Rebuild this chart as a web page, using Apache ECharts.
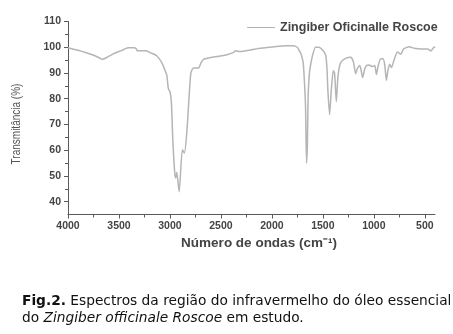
<!DOCTYPE html>
<html><head><meta charset="utf-8">
<script src="https://cdn.jsdelivr.net/npm/echarts@6/dist/echarts.min.js"></script>
<style>html,body{margin:0;padding:0;background:#fff}#c{width:453px;height:334px}</style>
</head><body><div id="c"></div>
<script>
const wavenumbers = [4000,3900,3800,3754,3700,3661,3620,3556,3475,3409,3353,3330,3320,3235,3195,3130,3081,3048,3030,3016,2998,2985,2972,2953,2943,2933,2910,2878,2858,2835,2812,2795,2770,2720,2697,2671,2600,2539,2450,2376,2359,2310,2200,2113,2000,1851,1792,1750,1736,1715,1693,1680,1670,1660,1652,1645,1637,1628,1604,1572,1539,1506,1473,1460,1451,1434,1417,1398,1385,1368,1352,1326,1277,1227,1201,1178,1162,1139,1129,1109,1090,1070,1047,1014,991,975,959,932,910,893,877,861,844,827,801,768,735,709,653,604,538,472,440,420,400];
const transmittance = [99.8,98.8,97.6,97.0,96.0,95.3,96.0,97.4,98.7,99.8,99.8,99.4,98.6,98.6,97.9,96.7,94.1,91.0,89.0,84.0,82.5,78.0,64.1,51.2,49.2,51.4,43.8,60.2,58.9,66.7,80.9,89.9,91.9,91.9,93.8,95.3,96.0,96.4,97.0,98.0,98.6,98.3,99.0,99.6,100.1,100.6,100.6,100.0,99.0,97.5,94.0,86.0,77.0,55.0,62.0,80.0,87.3,91.2,96.4,100.0,100.0,99.0,97.0,92.0,83.4,73.8,83.4,90.9,89.9,78.9,88.6,94.0,95.7,96.1,94.4,89.7,91.7,92.9,91.9,88.2,91.5,92.9,93.1,92.5,92.9,89.4,92.5,95.5,95.5,93.1,87.2,91.2,93.4,92.1,95.1,98.1,97.3,99.3,100.2,99.6,99.3,99.3,98.5,99.6,100.2];
const xTicks = [4000,3500,3000,2500,2000,1500,1000,500];
const xMinorTicks = [3750,3250,2750,2250,1750,1250,750];
const yTicks = [40,50,60,70,80,90,100,110];
const yMinorTicks = [45,55,65,75,85,95,105];
const seriesName = 'Zingiber Oficinalle Roscoe';
const yName = 'Transmitância (%)';

const chart = echarts.init(document.getElementById('c'), null, {renderer:'canvas'});
const axisCol = '#5a5a5a', txtCol = '#444';
const labelFont = {fontFamily:'Liberation Sans, Arial, sans-serif', fontWeight:'bold', fontSize:10.5, color:txtCol};
const capFont = 'DejaVu Sans, Verdana, sans-serif', capSize = 13.75;
chart.setOption({
  animation:false,
  backgroundColor:'#fff',
  grid:{left:68, right:18, top:21.5, bottom:119.5},
  legend:{
    data:[seriesName], left:242, top:16, itemWidth:28, itemHeight:14, itemGap:5,
    icon:'path://M0,6.5L28,6.5L28,7.5L0,7.5Z',
    itemStyle:{color:'#b3b3b3'},
    textStyle:{fontFamily:'Liberation Sans, Arial, sans-serif', fontWeight:'bold', fontSize:12.5, color:txtCol}
  },
  xAxis:[{
    type:'value', min:400, max:4000, inverse:true,
    axisLine:{show:true, lineStyle:{color:axisCol, width:1}},
    axisTick:{show:true, length:4, customValues:xTicks, lineStyle:{color:axisCol}},
    axisLabel:{customValues:xTicks, margin:6, formatter:v=>String(v), ...labelFont},
    splitLine:{show:false},
    name:'Número de ondas (cm⁻¹)', nameLocation:'middle', nameGap:21,
    nameTextStyle:{fontFamily:'Liberation Sans, Arial, sans-serif', fontWeight:'bold', fontSize:13.5, color:txtCol, padding:[0,0,0,15]}
  },{
    type:'value', min:400, max:4000, inverse:true, position:'bottom',
    axisLine:{show:false},
    axisTick:{show:true, length:3, customValues:xMinorTicks, lineStyle:{color:axisCol}},
    axisLabel:{show:false}, splitLine:{show:false}
  }],
  yAxis:[{
    type:'value', min:35, max:110,
    axisLine:{show:true, lineStyle:{color:axisCol, width:1}},
    axisTick:{show:true, length:4, customValues:yTicks, lineStyle:{color:axisCol}},
    axisLabel:{customValues:yTicks, margin:7, formatter:v=>String(v), ...labelFont},
    splitLine:{show:false}
  },{
    type:'value', min:35, max:110, position:'left',
    axisLine:{show:false},
    axisTick:{show:true, length:3, customValues:yMinorTicks, lineStyle:{color:axisCol}},
    axisLabel:{show:false}, splitLine:{show:false}
  }],
  series:[{
    name:seriesName, type:'line', symbol:'none', smooth:0.2,
    xAxisIndex:0, yAxisIndex:0,
    lineStyle:{color:'#b5b5b5', width:1.5}, itemStyle:{color:'#b5b5b5'},
    data: wavenumbers.map((w,i)=>[w, transmittance[i]])
  }],
  graphic:[{
    type:'text', x:17, y:124, rotation:Math.PI/2, scaleX:0.8,
    style:{text:yName, fontFamily:'Liberation Sans, Arial, sans-serif', fontSize:12.5,
      fill:'#555', align:'center', verticalAlign:'middle'}
  },{
    type:'text', left:22, top:293,
    style:{
      text:'{b|Fig.2.} Espectros da região do infravermelho do óleo essencial\ndo {i|Zingiber officinale Roscoe} em estudo.',
      fontFamily:capFont, fontSize:capSize, lineHeight:17, fill:'#111',
      rich:{
        b:{fontFamily:capFont, fontSize:capSize, fontWeight:'bold', fill:'#111', lineHeight:17},
        i:{fontFamily:capFont, fontSize:capSize, fontStyle:'italic', fill:'#111', lineHeight:17}
      }
    }
  }]
});
</script></body></html>
